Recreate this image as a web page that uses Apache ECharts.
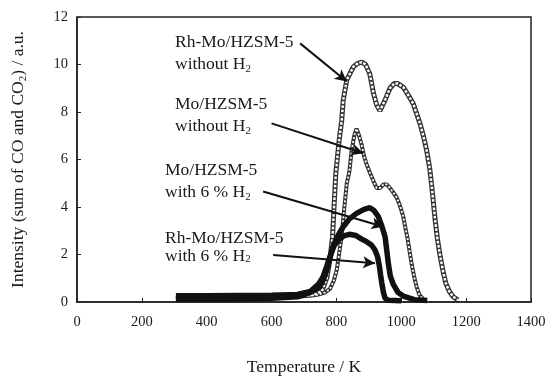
<!DOCTYPE html>
<html>
<head>
<meta charset="utf-8">
<script src="https://cdn.jsdelivr.net/npm/echarts@6/dist/echarts.min.js"></script>
<style>
  html, body { margin: 0; padding: 0; background: #fff; }
  #chart { width: 547px; height: 376px; }
</style>
</head>
<body>
<div id="chart"></div>
<script>
// Rh-Mo/HZSM-5 without H2 (squares)
const rhNoK = [305, 400, 500, 600, 680, 730, 755, 770, 780, 788, 793, 798, 806, 811, 816, 821, 832, 852, 866, 878, 890, 903, 914, 924, 934, 950, 965, 978, 988, 1006, 1022, 1037, 1048, 1058, 1068, 1078, 1088, 1096, 1104, 1112, 1119, 1128, 1137, 1148, 1160, 1175];
const rhNoI = [0.17, 0.17, 0.18, 0.2, 0.24, 0.3, 0.45, 1.0, 1.8, 2.75, 4.1, 5.4, 6.5, 7.1, 7.6, 8.5, 9.35, 9.9, 10.05, 10.1, 10.0, 9.6, 8.8, 8.3, 8.05, 8.5, 9.0, 9.2, 9.2, 9.05, 8.7, 8.35, 7.9, 7.5, 7.0, 6.4, 5.6, 4.6, 3.5, 2.6, 2.0, 1.35, 0.8, 0.45, 0.22, 0.08];

// Mo/HZSM-5 without H2 (diamonds)
const moNoK = [305, 400, 500, 600, 690, 740, 765, 780, 792, 801, 808, 816, 821, 826, 832, 840, 847, 855, 862, 870, 878, 886, 893, 903, 914, 924, 935, 945, 955, 965, 976, 986, 996, 1006, 1013, 1019, 1026, 1032, 1040, 1047, 1056, 1068];
const moNoI = [0.17, 0.17, 0.18, 0.2, 0.24, 0.3, 0.4, 0.55, 0.9, 1.35, 2.0, 2.75, 3.5, 4.2, 5.0, 5.5, 6.4, 7.0, 7.3, 7.0, 6.6, 6.1, 5.8, 5.45, 5.1, 4.8, 4.8, 4.95, 4.95, 4.8, 4.6, 4.4, 4.05, 3.6, 3.1, 2.7, 2.1, 1.6, 1.05, 0.65, 0.3, 0.12];

// Mo/HZSM-5 with 6 % H2
const moH2K = [305, 400, 500, 600, 680, 720, 749, 760, 770, 780, 790, 805, 821, 840, 862, 885, 903, 916, 929, 940, 950, 955, 960, 966, 975, 990, 1006, 1040, 1080];
const moH2I = [0.12, 0.12, 0.13, 0.16, 0.22, 0.4, 0.65, 0.95, 1.35, 1.85, 2.35, 2.8, 3.17, 3.5, 3.73, 3.9, 3.97, 3.85, 3.6, 3.2, 2.75, 2.2, 1.63, 1.1, 0.75, 0.4, 0.25, 0.1, 0.06];

// Rh-Mo/HZSM-5 with 6 % H2
const rhH2K = [305, 400, 500, 600, 680, 720, 745, 759, 770, 780, 792, 806, 822, 840, 860, 878, 893, 908, 919, 927, 932, 936, 940, 945, 950, 960, 1000];
const rhH2I = [0.26, 0.26, 0.27, 0.28, 0.32, 0.45, 0.75, 1.07, 1.5, 1.91, 2.35, 2.61, 2.78, 2.85, 2.8, 2.65, 2.54, 2.4, 2.19, 1.9, 1.55, 1.15, 0.79, 0.4, 0.16, 0.07, 0.05];

// arrows: [fromK, fromI, toK, toI]
const arrows = [
  [688, 10.89, 832, 9.28],
  [600, 7.52, 883, 6.26],
  [574, 4.65, 945, 3.17],
  [605, 1.98, 919, 1.63]
];

const zip = (a, b) => a.map((v, i) => [v, b[i]]);
const serif = 'Liberation Serif, Times New Roman, serif';
const ink = '#1a1a1a';

const chart = echarts.init(document.getElementById('chart'));

const richSub = {
  n: { fontFamily: serif, fontSize: 17.5, color: ink, lineHeight: 22 },
  s: { fontFamily: serif, fontSize: 11, color: ink, verticalAlign: 'bottom', lineHeight: 16 }
};

function note(x, y, text, lh) {
  const rich = JSON.parse(JSON.stringify(richSub));
  if (lh) rich.n.lineHeight = lh;
  return {
    type: 'text', left: x, top: y, z: 20,
    style: { text: text, rich: rich, fill: ink }
  };
}

const option = {
  animation: false,
  grid: {
    left: 77, right: 16, top: 17, bottom: 74, containLabel: false, outerBoundsMode: 'none',
    show: true, borderColor: '#222', borderWidth: 1.5
  },
  xAxis: {
    type: 'value', min: 0, max: 1400, interval: 200,
    name: 'Temperature / K', nameLocation: 'middle', nameGap: 56,
    nameTextStyle: { fontFamily: serif, fontSize: 17.5, color: ink },
    axisLine: { lineStyle: { color: '#222', width: 1.5 } },
    axisTick: { inside: true, length: 4, lineStyle: { color: '#222' } },
    axisLabel: { fontFamily: serif, fontSize: 14.5, color: ink, margin: 13, formatter: v => String(v) },
    splitLine: { show: false }
  },
  yAxis: {
    type: 'value', min: 0, max: 12, interval: 2,
    name: '{n|Intensity (sum of CO and CO}{s|2}{n|) / a.u.}', nameLocation: 'middle', nameGap: 48,
    nameTextStyle: { rich: richSub },
    axisLine: { lineStyle: { color: '#222', width: 1.5 } },
    axisTick: { inside: true, length: 4, lineStyle: { color: '#222' } },
    axisLabel: { fontFamily: serif, fontSize: 14.5, color: ink, margin: 9 },
    splitLine: { show: false }
  },
  series: [
    { type: 'line', data: zip(rhNoK, rhNoI), showSymbol: false, z: 2,
      lineStyle: { color: '#333', width: 5 } },
    { type: 'line', data: zip(rhNoK, rhNoI), showSymbol: false, z: 3,
      lineStyle: { color: '#fff', width: 2.4, type: [2.6, 1.6] } },
    { type: 'line', data: zip(moNoK, moNoI), showSymbol: false, z: 2,
      lineStyle: { color: '#333', width: 4 } },
    { type: 'line', data: zip(moNoK, moNoI), showSymbol: false, z: 3,
      lineStyle: { color: '#fff', width: 1.8, type: [2, 2] } },
    { type: 'line', data: zip(moH2K, moH2I), showSymbol: false, z: 5,
      lineStyle: { color: '#111', width: 5.5 } },
    { type: 'line', data: zip(rhH2K, rhH2I), showSymbol: false, z: 5,
      lineStyle: { color: '#111', width: 5.5 },
      markLine: {
        silent: true, symbol: ['none', 'arrow'], symbolSize: [9, 12],
        label: { show: false },
        lineStyle: { color: '#111', width: 2, type: 'solid' },
        data: arrows.map(a => [{ coord: [a[0], a[1]] }, { coord: [a[2], a[3]] }])
      } }
  ],
  graphic: [
    note(175, 33, '{n|Rh-Mo/HZSM-5}\n{n|without H}{s|2}'),
    note(175, 95, '{n|Mo/HZSM-5}\n{n|without H}{s|2}'),
    note(165, 161, '{n|Mo/HZSM-5}\n{n|with 6 % H}{s|2}'),
    note(165, 229, '{n|Rh-Mo/HZSM-5}\n{n|with 6 % H}{s|2}', 18)
  ]
};
chart.setOption(option);
</script>
</body>
</html>
